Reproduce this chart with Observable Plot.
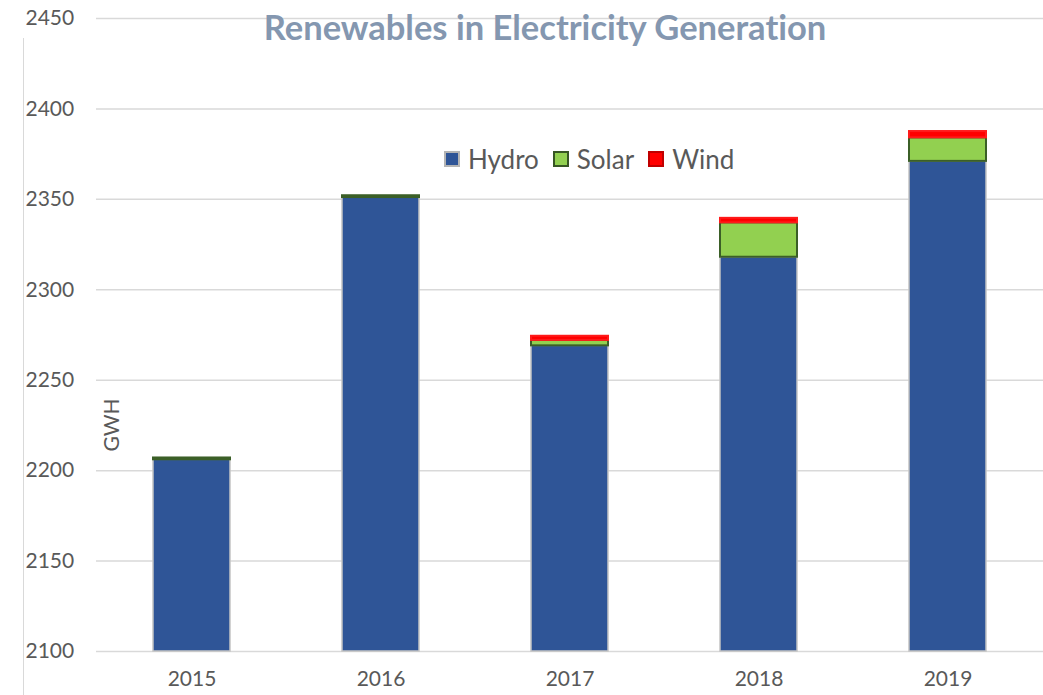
<!DOCTYPE html>
<html>
<head>
<meta charset="utf-8">
<script src="https://cdn.jsdelivr.net/npm/d3@7"></script>
<script src="https://cdn.jsdelivr.net/npm/@observablehq/plot@0.6"></script>
<style>
  html, body { margin: 0; padding: 0; background: #fff; }
  #wrap { position: relative; width: 1043px; height: 695px; font-family: Lato, "Open Sans", sans-serif; color: #595959; overflow: hidden; font-variant-ligatures: none; }
  #title { position: absolute; left: 0; width: 1090px; top: 6px; text-align: center; font-weight: bold; font-size: 34.5px; color: #8497b0; z-index: 3; pointer-events: none; white-space: nowrap; font-variant-ligatures: none; }
  #vline { position: absolute; left: 23px; top: 38px; width: 0; height: 660px; border-left: 1.5px solid #d9d9d9; }
  #ylabel { position: absolute; left: 110px; top: 425px; transform: translate(-50%, -50%) rotate(-90deg); font-size: 21px; white-space: nowrap; z-index: 2; }
  #legend { position: absolute; top: 143px; left: 444px; display: flex; align-items: center; font-size: 26px; z-index: 2; white-space: nowrap; }
  #legend .sw { display: inline-block; width: 16px; height: 16px; margin-right: 8px; box-sizing: border-box; }
  #legend .it { display: flex; align-items: center; margin-right: 14px; }
  svg { position: absolute; left: 0; top: 0; z-index: 1; }
</style>
</head>
<body>
<div id="wrap">
  <div id="vline"></div>
  <div id="title">Renewables in Electricity Generation</div>
  <div id="ylabel">GWH</div>
  <div id="legend"></div>
</div>
<script>
const years = ["2015", "2016", "2017", "2018", "2019"];
const hydro = [2206, 2351, 2269, 2318, 2371];
const solar = [1, 1, 3, 19, 13];
const wind = [0, 0, 2.3, 2.5, 3.5];
const yTicks = [2100, 2150, 2200, 2250, 2300, 2350, 2400, 2450];
const seriesNames = ["Hydro", "Solar", "Wind"];
const fills = ["#2f5597", "#92d050", "#ff0000"];
const strokes = ["#c4c4c4", "#3b5f27", "#ff1a1a"];
const legendStrokes = ["#b4b4b4", "#375623", "#c00000"];

const yMin = yTicks[0], yMax = yTicks[yTicks.length - 1];
const seriesValues = [hydro, solar, wind];

// build stacked segments
const segs = [];
years.forEach((yr, i) => {
  let cum = 0;
  seriesValues.forEach((vals, s) => {
    const v = vals[i];
    const lo = s === 0 ? yMin : cum;
    const hi = s === 0 ? v : cum + v;
    cum = hi;
    if (v > 0) segs.push({year: yr, series: seriesNames[s], y1: lo, y2: hi});
  });
});

const barMarks = seriesNames.map((name, s) =>
  Plot.barY(segs.filter(d => d.series === name), {
    x: "year", y1: "y1", y2: "y2",
    fill: fills[s], stroke: strokes[s], strokeWidth: s === 0 ? 1.5 : 2
  })
);

const chart = Plot.plot({
  width: 1043,
  height: 695,
  marginTop: 18,
  marginBottom: 44,
  marginLeft: 96,
  marginRight: 0,
  style: { fontSize: "21px", fontFamily: "Lato, 'Open Sans', sans-serif", color: "#595959", background: "transparent" },
  x: { domain: years, paddingInner: 0.59, paddingOuter: 0.295, label: null },
  y: { domain: [yMin, yMax], label: null },
  marks: [
    Plot.ruleY(yTicks, { stroke: "#d9d9d9", strokeWidth: 1.5 }),
    ...barMarks,
    Plot.axisY(yTicks, { tickSize: 0, tickPadding: 0, textAnchor: "start", dx: -71, tickFormat: d3.format("d"), fill: "#595959", fontSize: 21, label: null }),
    Plot.axisX({ tickSize: 0, tickPadding: 20, fill: "#595959", fontSize: 21, label: null })
  ]
});
document.getElementById("wrap").appendChild(chart);

const legend = document.getElementById("legend");
seriesNames.forEach((name, s) => {
  const it = document.createElement("span");
  it.className = "it";
  const sw = document.createElement("span");
  sw.className = "sw";
  sw.style.background = fills[s];
  sw.style.border = "2px solid " + legendStrokes[s];
  it.appendChild(sw);
  it.appendChild(document.createTextNode(name));
  legend.appendChild(it);
});
</script>
</body>
</html>
